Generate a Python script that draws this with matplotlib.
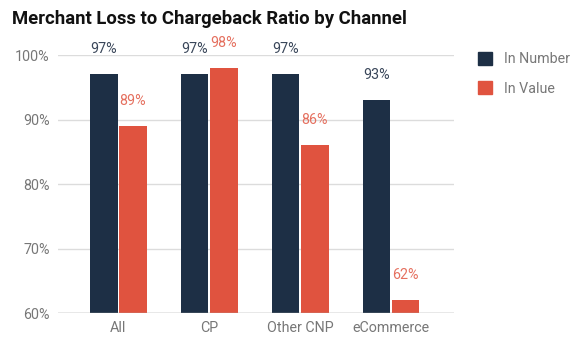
import matplotlib
matplotlib.use("Agg")
import matplotlib.pyplot as plt
import numpy as np
from matplotlib.patches import Patch

channels = ["All", "CP", "Other CNP", "eCommerce"]
in_number = [97, 97, 97, 93]
in_value = [89, 98, 86, 62]
y_ticks = [60, 70, 80, 90, 100]

navy = "#1d2f45"
red = "#e0533f"
navy_txt = "#3a475a"
red_txt = "#e5705f"
grey_txt = "#777777"

plt.rcParams["font.family"] = ["Roboto", "DejaVu Sans"]

fig = plt.figure(figsize=(5.78, 3.41), dpi=100)
ax = fig.add_axes([0.1003, 0.0821, 0.6852, 0.7566])

x = np.arange(len(channels))
w = 0.30
gap = 0.01
ax.bar(x - w / 2 - gap, [v - 60 for v in in_number], w, bottom=60, color=navy, zorder=3)
ax.bar(x + w / 2 + gap, [v - 60 for v in in_value], w, bottom=60, color=red, zorder=3)

for xi, v in zip(x - w / 2 - gap, in_number):
    ax.annotate(f"{v}%", (xi, v), xytext=(0, 18), textcoords="offset points",
                ha="center", va="center", fontsize=10.3, color=navy_txt, annotation_clip=False)
for xi, v in zip(x + w / 2 + gap, in_value):
    ax.annotate(f"{v}%", (xi, v), xytext=(0, 18), textcoords="offset points",
                ha="center", va="center", fontsize=10.3, color=red_txt, annotation_clip=False)

ax.set_ylim(60, 100)
ax.set_xlim(-0.665, 3.69)
ax.set_yticks(y_ticks)
ax.set_yticklabels([f"{t}%" for t in y_ticks])
ax.set_xticks(x)
ax.set_xticklabels(channels)
ax.tick_params(axis="both", length=0, labelsize=10.3, colors=grey_txt)
ax.tick_params(axis="y", pad=6)
ax.tick_params(axis="x", pad=6)
ax.grid(axis="y", color="#dcdcdc", linewidth=1, zorder=0)
for s in ax.spines.values():
    s.set_visible(False)
ax.axhline(60, color="#aaaaaa", linewidth=1, zorder=4)

handles = [Patch(color=navy, label="In Number"), Patch(color=red, label="In Value")]
leg = fig.legend(handles=handles, loc="upper left", bbox_to_anchor=(0.805, 0.885),
                 frameon=False, fontsize=10.3, handlelength=1.0, handleheight=1.0,
                 handletextpad=0.8, labelspacing=1.05)
for t in leg.get_texts():
    t.set_color(grey_txt)

fig.text(0.02, 0.945, "Merchant Loss to Chargeback Ratio by Channel", fontsize=13.3,
         fontweight="bold", color="#111111", ha="left", va="center")

fig.savefig("out.png", dpi=100)
